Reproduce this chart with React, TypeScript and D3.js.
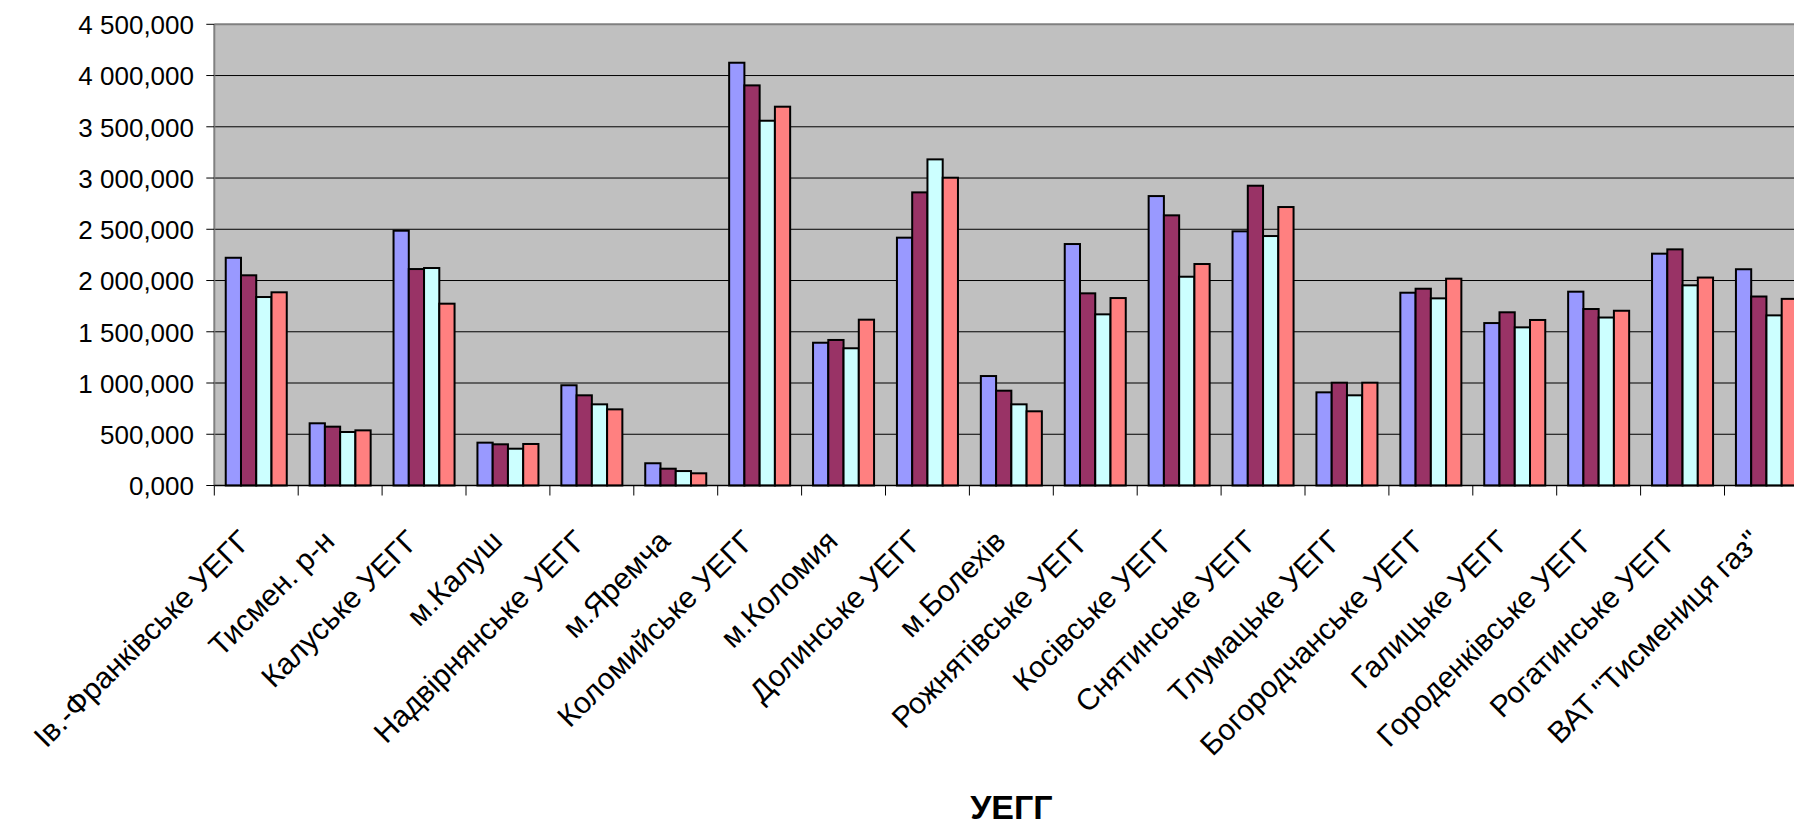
import React from "react";
import * as d3 from "d3";

const categories = [
  "Ів.-Франківське УЕГГ",
  "Тисмен. р-н",
  "Калуське УЕГГ",
  "м.Калуш",
  "Надвірнянське УЕГГ",
  "м.Яремча",
  "Коломийське УЕГГ",
  "м.Коломия",
  "Долинське УЕГГ",
  "м.Болехів",
  "Рожнятівське УЕГГ",
  "Косівське УЕГГ",
  "Снятинське УЕГГ",
  "Тлумацьке УЕГГ",
  "Богородчанське УЕГГ",
  "Галицьке УЕГГ",
  "Городенківське УЕГГ",
  "Рогатинське УЕГГ",
  'ВАТ "Тисмениця газ"',
];

const series1 = [2222, 607, 2486, 418, 978, 217, 4125, 1393, 2418, 1068, 2356, 2824, 2480, 909, 1881, 1585, 1891, 2262, 2110];
const series2 = [2051, 574, 2112, 402, 880, 164, 3904, 1420, 2860, 925, 1875, 2636, 2925, 1003, 1920, 1690, 1722, 2304, 1844];
const series3 = [1839, 522, 2122, 359, 792, 141, 3559, 1339, 3182, 792, 1670, 2037, 2434, 880, 1826, 1543, 1639, 1953, 1660];
const series4 = [1885, 538, 1774, 405, 743, 119, 3696, 1618, 3003, 724, 1829, 2161, 2717, 1003, 2018, 1615, 1705, 2029, 1821];

const seriesNames = ["s1", "s2", "s3", "s4"];
const seriesColors = ["#9999FF", "#993366", "#CCFFFF", "#FF8080"];
const yTicks = [0, 500, 1000, 1500, 2000, 2500, 3000, 3500, 4000, 4500];
const axisTitle = "УЕГГ";

const W = 1794;
const H = 824;
const FONT = "'Liberation Sans', Arial, sans-serif";

export default function App() {
  const allSeries = [series1, series2, series3, series4];
  const left = 214.3;
  const right = 1808.4;
  const top = 24.3;
  const bottom = 485.5;

  const x = d3.scaleBand<string>().domain(categories).range([left, right]).paddingInner(0).paddingOuter(0);
  const xs = d3.scaleBand<string>().domain(seriesNames).range([0, x.bandwidth()]).paddingInner(0).paddingOuter(0.75);
  const y = d3.scaleLinear().domain([0, 4500]).range([bottom, top]);

  const locale = d3.formatLocale({ decimal: ",", thousands: " ", grouping: [3], currency: ["", ""] });
  const fmt = locale.format(",.3f");

  const boundaries = d3.range(categories.length + 1).map((i) => left + i * x.step());

  return (
    <svg width={W} height={H} style={{ position: "absolute", left: 0, top: 0, background: "#fff" }}>
      <rect x={left} y={top} width={right - left} height={bottom - top} fill="#C0C0C0" />
      {yTicks.filter((t) => t > 0 && t < 4500).map((t) => (
        <line key={"g" + t} x1={left} x2={right} y1={y(t)} y2={y(t)} stroke="#000" strokeWidth={1} />
      ))}
      <line x1={left} x2={right} y1={top} y2={top} stroke="#808080" strokeWidth={2} />
      {allSeries.map((vals, si) =>
        vals.map((v, ci) => (
          <rect
            key={si + "-" + ci}
            x={(x(categories[ci]) as number) + (xs(seriesNames[si]) as number)}
            y={y(v)}
            width={xs.bandwidth()}
            height={bottom - y(v)}
            fill={seriesColors[si]}
            stroke="#000"
            strokeWidth={2}
          />
        ))
      )}
      <line x1={left} x2={left} y1={top} y2={bottom} stroke="#808080" strokeWidth={2} />
      <line x1={left} x2={right} y1={bottom} y2={bottom} stroke="#000" strokeWidth={1.5} />
      {yTicks.map((t) => (
        <g key={"yt" + t}>
          <line x1={left - 8} x2={left} y1={y(t)} y2={y(t)} stroke="#000" strokeWidth={1} />
          <text x={194} y={y(t)} dy="0.38em" textAnchor="end" fontFamily={FONT} fontSize={26} fill="#000">
            {fmt(t)}
          </text>
        </g>
      ))}
      {boundaries.map((b, i) => (
        <line key={"xt" + i} x1={b} x2={b} y1={bottom} y2={bottom + 10} stroke="#000" strokeWidth={1} />
      ))}
      {categories.map((c) => {
        const cx = (x(c) as number) + x.bandwidth() / 2 - 4;
        const cy = 543;
        return (
          <text
            key={"xl" + c}
            x={cx}
            y={cy}
            textAnchor="end"
            transform={`rotate(-45 ${cx} ${cy})`}
            fontFamily={FONT}
            fontSize={30}
            fill="#000"
          >
            {c}
          </text>
        );
      })}
      <text x={(left + right) / 2} y={819} textAnchor="middle" fontFamily={FONT} fontSize={34} fontWeight="bold" fill="#000">
        {axisTitle}
      </text>
    </svg>
  );
}
